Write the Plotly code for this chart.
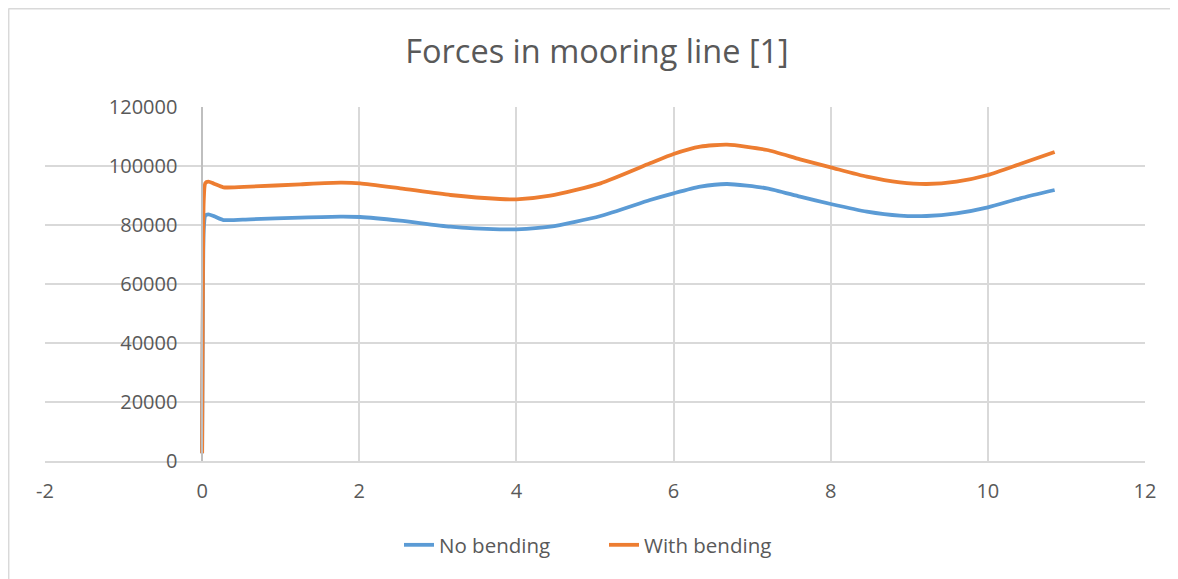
import plotly.graph_objects as go

# Data
x_no = [0, 0.008, 0.02, 0.04, 0.08, 0.15, 0.27, 0.61, 1.25, 1.76, 2.01, 2.52, 3.16, 3.79, 4.0, 4.43,
        5.07, 5.70, 6.0, 6.34, 6.68, 7.19, 7.61, 8.0, 8.46, 8.88, 9.22, 9.6, 10.0, 10.41, 10.85]
y_no = [2600, 45000, 78000, 83200, 83630, 83000, 81690, 81930, 82490, 82830, 82710, 81470, 79430, 78530,
        78530, 79430, 83050, 88470, 90740, 93000, 93900, 92430, 89600, 87120, 84520, 83160, 83050,
        83950, 85990, 89040, 91860]

x_with = [0, 0.008, 0.02, 0.04, 0.08, 0.15, 0.27, 0.61, 1.25, 1.76, 2.01, 2.52, 3.16, 3.79, 4.0, 4.43,
          5.07, 5.70, 6.0, 6.34, 6.68, 7.19, 7.61, 8.0, 8.46, 8.88, 9.22, 9.6, 10.0, 10.41, 10.85]
y_with = [2600, 50000, 88000, 94200, 94680, 94000, 92780, 93000, 93800, 94340, 94130, 92440, 90170,
          88810, 88700, 89940, 94130, 100900, 104070, 106550, 107230, 105420, 102260, 99550, 96380,
          94460, 93900, 94680, 96950, 100680, 104750]

x_ticks = [-2, 0, 2, 4, 6, 8, 10, 12]
x_labels = ["-2", "0", "2", "4", "6", "8", "10", "12"]
y_ticks = [0, 20000, 40000, 60000, 80000, 100000, 120000]
y_labels = ["0", "20000", "40000", "60000", "80000", "100000", "120000"]

FONT = "Open Sans"
TXT = "#595959"
GRID = "#d9d9d9"

fig = go.Figure()
fig.add_trace(go.Scatter(x=x_no, y=y_no, mode="lines", name="No bending",
                         line=dict(color="#5b9bd5", width=3.8, shape="spline", smoothing=0.6)))
fig.add_trace(go.Scatter(x=x_with, y=y_with, mode="lines", name="With bending",
                         line=dict(color="#ed7d31", width=3.8, shape="spline", smoothing=0.6)))

# page has an 8px body margin: figure coords = page coords - 8
OFF = 8
W, H = 1178, 579
L, R, T, B = 45 - OFF, 1145 - OFF, 107 - OFF, 461 - OFF

def px(xp):
    return (xp - OFF - L) / (R - L)

def py(yp):
    return (B - (yp - OFF)) / (B - T)

fig.update_layout(
    width=W, height=H,
    margin=dict(l=L, r=W - R, t=T, b=H - B),
    paper_bgcolor="white", plot_bgcolor="white",
    title=dict(text="Forces in mooring line [1]", x=0.5, xanchor="center",
               y=1 - (52 - OFF) / H, yanchor="middle",
               font=dict(family=FONT, size=32.5, color=TXT)),
    font=dict(family=FONT, size=20, color=TXT),
    showlegend=True,
    legend=dict(orientation="h", x=0.5 + 9 / 1100, xanchor="center", y=py(545), yanchor="middle",
                font=dict(family=FONT, size=20.5, color=TXT),
                entrywidth=160, entrywidthmode="pixels",
                traceorder="normal"),
    xaxis=dict(range=[-2, 12], tickvals=x_ticks, ticktext=x_labels, showgrid=True, gridcolor=GRID,
               gridwidth=1.5, zeroline=False, showline=True, linecolor=GRID, linewidth=1.5,
               ticks="", tickfont=dict(family=FONT, size=20, color=TXT), ticklabelstandoff=11,
               fixedrange=True),
    yaxis=dict(range=[0, 120000], tickvals=y_ticks, ticktext=y_labels, showgrid=True, gridcolor=GRID,
               gridwidth=1.5, zeroline=False, showline=True, linecolor="#bfbfbf", linewidth=1.5,
               anchor="free", position=2 / 14, ticks="",
               tickfont=dict(family=FONT, size=20, color=TXT), ticklabelstandoff=20,
               fixedrange=True),
    shapes=[
        dict(type="line", xref="paper", yref="paper", x0=px(8.5), x1=px(W + 10), y0=py(8.7), y1=py(8.7),
             line=dict(color=GRID, width=1.5)),
        dict(type="line", xref="paper", yref="paper", x0=px(8.7), x1=px(8.7), y0=py(8.5), y1=py(H + 10),
             line=dict(color=GRID, width=1.5)),
    ],
)

fig.write_html("out.html")
